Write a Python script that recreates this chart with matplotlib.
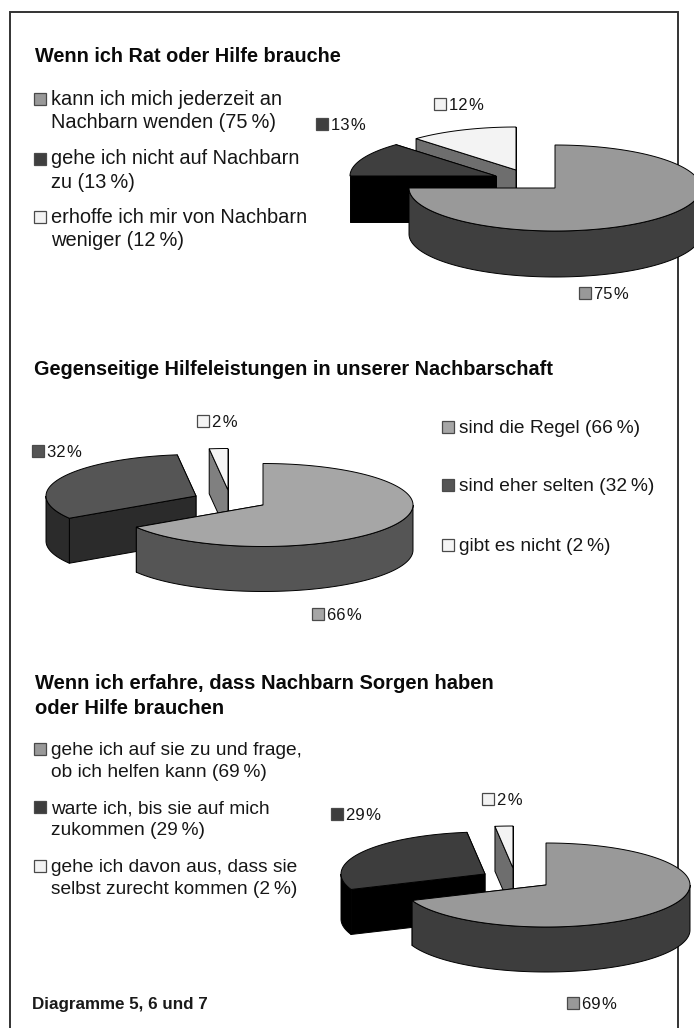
import numpy as np
import matplotlib
matplotlib.use('Agg')
import matplotlib.pyplot as plt
from matplotlib.patches import Polygon, Rectangle

# Data, slice shares in percent, clockwise from 12 o'clock
values_1 = [75, 13, 12]
values_2 = [66, 32, 2]
values_3 = [69, 29, 2]

title_1 = ["Wenn ich Rat oder Hilfe brauche"]
title_2 = ["Gegenseitige Hilfeleistungen in unserer Nachbarschaft"]
title_3 = ["Wenn ich erfahre, dass Nachbarn Sorgen haben", "oder Hilfe brauchen"]

legend_1 = [["kann ich mich jederzeit an", "Nachbarn wenden (75\u2009%)"],
            ["gehe ich nicht auf Nachbarn", "zu (13\u2009%)"],
            ["erhoffe ich mir von Nachbarn", "weniger (12\u2009%)"]]
legend_2 = [["sind die Regel (66\u2009%)"],
            ["sind eher selten (32\u2009%)"],
            ["gibt es nicht (2\u2009%)"]]
legend_3 = [["gehe ich auf sie zu und frage,", "ob ich helfen kann (69\u2009%)"],
            ["warte ich, bis sie auf mich", "zukommen (29\u2009%)"],
            ["gehe ich davon aus, dass sie", "selbst zurecht kommen (2\u2009%)"]]

footer = "Diagramme 5, 6 und 7"

# Colours per slice: top surface, side
tops_1 = ['#999999', '#3f3f3f', '#f3f3f3']
sides_1 = ['#3f3f3f', '#000000', '#6e6e6e']
tops_2 = ['#a6a6a6', '#555555', '#f5f5f5']
sides_2 = ['#555555', '#2b2b2b', '#808080']
tops_3 = ['#999999', '#3d3d3d', '#f3f3f3']
sides_3 = ['#3d3d3d', '#000000', '#6e6e6e']

FONT = 'Liberation Sans'
TEXT_COLOR = '#161616'
LABEL_SIZE = 12.0


def rim_point(apex, a, b, angle):
    # angle in degrees, clockwise from 12 o'clock
    t = np.radians(angle)
    return apex[0] + a * np.sin(t), apex[1] - b * np.cos(t)


def draw_slice(ax, apex, a, b, depth, start, end, top, side):
    p0 = rim_point(apex, a, b, start)
    p1 = rim_point(apex, a, b, end)

    # cut faces first, the top surface hides the ones facing away
    for p in (p1, p0):
        face = [p, apex, (apex[0], apex[1] + depth), (p[0], p[1] + depth)]
        ax.add_patch(Polygon(face, facecolor=side, edgecolor='black', lw=0.7, joinstyle='round'))

    # outer wall, only the part that faces the viewer
    lo, hi = max(start, 90), min(end, 270)
    if hi > lo:
        ang = np.linspace(lo, hi, 120)
        upper = [rim_point(apex, a, b, x) for x in ang]
        lower = [(x, y + depth) for x, y in upper[::-1]]
        ax.add_patch(Polygon(upper + lower, facecolor=side, edgecolor='black', lw=0.7))

    ang = np.linspace(start, end, 240)
    pts = [apex] + [rim_point(apex, a, b, x) for x in ang]
    ax.add_patch(Polygon(pts, facecolor=top, edgecolor='black', lw=0.7, joinstyle='miter'))


def draw_pie(ax, values, apexes, a, b, depth, tops, sides, order):
    edges = np.cumsum([0] + values) * 3.6
    for i in order:
        draw_slice(ax, apexes[i], a, b, depth, edges[i], edges[i + 1], tops[i], sides[i])


def swatch(ax, x, y, color, size=12):
    ax.add_patch(Rectangle((x, y - size), size, size, facecolor=color, edgecolor='#4a4a4a', lw=0.9))


def draw_legend(ax, rows, colors, x, baselines, step, size):
    for row, color, y in zip(rows, colors, baselines):
        swatch(ax, x, y, color)
        for k, line in enumerate(row):
            ax.text(x + 17, y + k * step, line, fontsize=size, family=FONT,
                    color=TEXT_COLOR, va='baseline')


def draw_labels(ax, values, colors, spots):
    for v, color, (x, y) in zip(values, colors, spots):
        swatch(ax, x, y, color)
        ax.text(x + 15.5, y, f"{v}\u200a%", fontsize=LABEL_SIZE, family=FONT,
                color=TEXT_COLOR, va='baseline')


def draw_title(ax, lines, x, y, size, step=25):
    for k, line in enumerate(lines):
        ax.text(x, y + k * step, line, fontsize=size, family=FONT, fontweight='bold',
                color='#0a0a0a', va='baseline')


fig = plt.figure(figsize=(6.94, 10.28), dpi=100)
ax = fig.add_axes([0, 0, 1, 1])
ax.set_xlim(0, 694)
ax.set_ylim(1028, 0)
ax.axis('off')

# Frame, open at the bottom edge of the page
ax.plot([10.5, 10.5, 678, 678], [1028, 12, 12, 1028], color='#333333', lw=1.4, zorder=0,
        solid_joinstyle='miter')

# Diagram 5
draw_title(ax, title_1, 35, 62, 14.3)
draw_legend(ax, legend_1, tops_1, 34, [105, 164.5, 223], 23, 14.4)
draw_pie(ax, values_1, [(555, 188), (496, 176), (516, 170)], 146, 43, 46, tops_1, sides_1, [2, 1, 0])
draw_labels(ax, values_1, tops_1, [(579, 299), (316, 130), (434, 110)])

# Diagram 6
draw_title(ax, title_2, 34, 375, 14.3)
draw_legend(ax, legend_2, tops_2, 442, [433, 491, 551], 23, 13.8)
draw_pie(ax, values_2, [(263, 505), (196, 496), (228, 490)], 150, 41.5, 45, tops_2, sides_2, [2, 1, 0])
draw_labels(ax, values_2, tops_2, [(312, 620), (32, 457), (197, 427)])

# Diagram 7
draw_title(ax, title_3, 35, 689, 14.5)
draw_legend(ax, legend_3, tops_3, 34, [755, 813, 872], 22, 13.8)
draw_pie(ax, values_3, [(546, 885), (485, 874), (513, 868)], 144, 42, 45, tops_3, sides_3, [2, 1, 0])
draw_labels(ax, values_3, tops_3, [(567, 1009), (331, 820), (482, 805)])

ax.text(32, 1009, footer, fontsize=12.25, family=FONT, fontweight='bold', color='#1a1a1a', va='baseline')

fig.savefig('out.png', dpi=100)
